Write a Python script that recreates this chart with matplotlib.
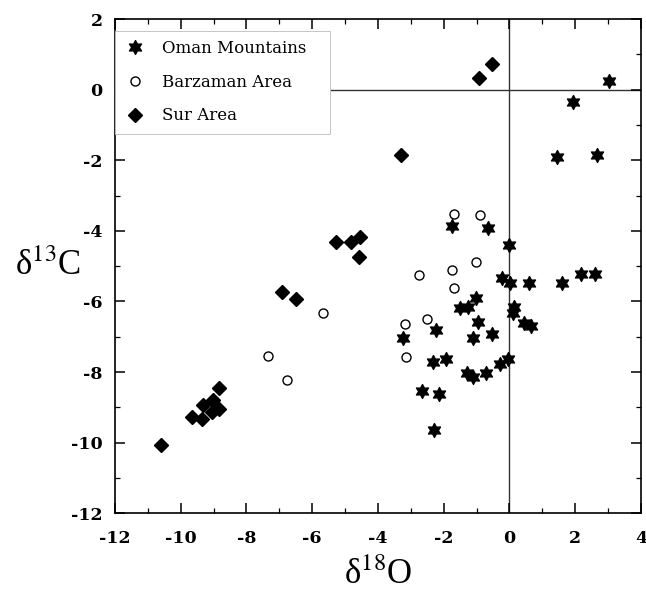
import matplotlib
matplotlib.use("Agg")
import matplotlib.pyplot as plt
from matplotlib.path import Path
from matplotlib.ticker import MultipleLocator

# Oman Mountains (stars)
oman_x = [3.03, 1.93, 1.45, 2.66,
          -1.74, -0.64, -0.02, -0.21, 0.02, 0.60, 1.61, 2.17, 2.62,
          -1.02, -1.51, -1.27, 0.14, 0.12, 0.45, 0.65, -0.95, -2.22, -1.10, -0.54,
          -2.32, -1.93, -1.30, -1.10, -0.72, -0.29, -0.04,
          -2.67, -2.14, -2.30, -3.23]
oman_y = [0.24, -0.35, -1.91, -1.85,
          -3.86, -3.93, -4.40, -5.33, -5.47, -5.49, -5.49, -5.23, -5.21,
          -5.89, -6.20, -6.15, -6.15, -6.32, -6.62, -6.69, -6.58, -6.80, -7.03, -6.93,
          -7.73, -7.64, -8.02, -8.13, -8.04, -7.78, -7.62,
          -8.54, -8.61, -9.65, -7.03]

# Barzaman Area (open circles)
barz_x = [-1.68, -0.88, -1.02, -1.76, -1.68, -2.52, -2.74, -3.18, -3.15, -5.68, -6.76, -7.34]
barz_y = [-3.51, -3.54, -4.88, -5.11, -5.63, -6.50, -5.25, -6.64, -7.57, -6.32, -8.23, -7.54]

# Sur Area (diamonds)
sur_x = [-0.54, -0.92, -3.31, -5.26, -4.83, -4.55, -4.58, -6.93, -6.50,
         -8.84, -9.01, -8.83, -9.31, -9.67, -9.36, -9.06, -10.60]
sur_y = [0.72, 0.32, -1.85, -4.33, -4.33, -4.17, -4.74, -5.73, -5.93,
         -8.44, -8.78, -9.06, -8.94, -9.27, -9.34, -9.13, -10.07]

plt.rcParams["font.family"] = ["DejaVu Serif"]
plt.rcParams["mathtext.fontset"] = "stix"
plt.rcParams["axes.unicode_minus"] = False

# six pointed star, like a hexagram
star6 = Path.unit_regular_star(6, 0.55)

fig = plt.figure(figsize=(6.46, 5.94), dpi=100)
ax = fig.add_axes([0.178, 0.136, 0.814, 0.832])

ax.axhline(0, color="#333333", lw=1.0, zorder=1)
ax.axvline(0, color="#333333", lw=1.0, zorder=1)

ax.plot(oman_x, oman_y, linestyle="none", marker=star6, ms=10,
        color="black", label="Oman Mountains", zorder=3)
ax.plot(barz_x, barz_y, linestyle="none", marker="o", ms=6.5,
        mfc="white", mec="black", mew=1.0, label="Barzaman Area", zorder=3)
ax.plot(sur_x, sur_y, linestyle="none", marker="D", ms=7.5,
        color="black", label="Sur Area", zorder=3)

ax.set_xlim(-12, 4)
ax.set_ylim(-12, 2)
ax.xaxis.set_major_locator(MultipleLocator(2))
ax.xaxis.set_minor_locator(MultipleLocator(1))
ax.yaxis.set_major_locator(MultipleLocator(2))
ax.yaxis.set_minor_locator(MultipleLocator(1))
ax.tick_params(which="both", direction="in", top=True, right=True)
ax.tick_params(which="major", length=7, width=1.1, labelsize=12.5)
ax.tick_params(which="minor", length=3.5, width=0.9)
ax.tick_params(axis="x", which="major", pad=12)
ax.tick_params(axis="y", which="major", pad=9)
for lbl in ax.get_xticklabels() + ax.get_yticklabels():
    lbl.set_fontweight("bold")
for s in ax.spines.values():
    s.set_linewidth(1.2)

ax.set_xlabel("δ$^{18}$O", fontsize=25, labelpad=8, family="Liberation Serif")
ax.set_ylabel("δ$^{13}$C", fontsize=25, rotation=0, labelpad=16, va="center",
              family="Liberation Serif")

leg = ax.legend(loc="upper left", bbox_to_anchor=(0.0, 0.0, 0.409, 0.976),
                mode="expand", borderaxespad=0,
                fontsize=12, frameon=True, fancybox=False, edgecolor="#bbbbbb",
                framealpha=1, handletextpad=1.0, labelspacing=1.0,
                borderpad=0.55, handlelength=1.3, numpoints=1)
leg.get_frame().set_linewidth(0.6)
leg.set_zorder(5)

fig.savefig("out.png", dpi=100)
